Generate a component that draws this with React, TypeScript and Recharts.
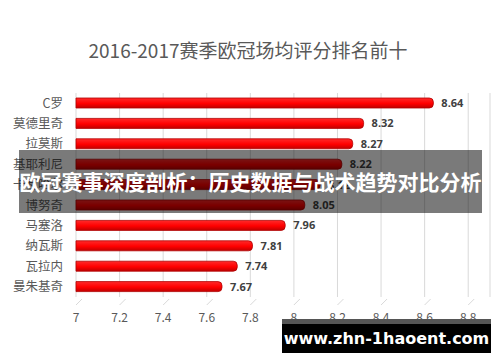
import { BarChart, Bar, XAxis, YAxis, CartesianGrid, LabelList } from 'recharts';

const players = ['C罗', '莫德里奇', '拉莫斯', '基耶利尼', '卡瓦哈尔', '博努奇', '马塞洛', '纳瓦斯', '瓦拉内', '曼朱基奇'];
const ratings = [8.64, 8.32, 8.27, 8.22, 8.12, 8.05, 7.96, 7.81, 7.74, 7.67];
const xTicks = [7, 7.2, 7.4, 7.6, 7.8, 8, 8.2, 8.4, 8.6, 8.8];

const data = players.map((name, i) => ({ name, rating: ratings[i] }));

const GREY = '#595959';

function XTick(props: any) {
  const { x, y, payload } = props;
  return (
    <g>
      <line x1={x} y1={y} x2={x + 6} y2={y - 6} stroke="#d9d9d9" />
      <text x={x} y={y + 17} textAnchor="middle" fill={GREY} fontSize={12} fontFamily="'Noto Sans CJK SC', sans-serif">
        {payload.value}
      </text>
    </g>
  );
}

export default function App() {
  return (
    <div style={{ position: 'fixed', left: 0, top: 0, width: 500, height: 362, background: '#fff', overflow: 'hidden' }}>
      <div
        style={{
          position: 'absolute', left: 0, top: 36, width: 496, textAlign: 'center',
          fontSize: 19, color: GREY, fontFamily: "'Noto Sans CJK SC', sans-serif",
        }}
      >
        2016-2017赛季欧冠场均评分排名前十
      </div>
      <BarChart
        width={500}
        height={362}
        data={data}
        layout="vertical"
        margin={{ top: 93, right: 10, bottom: 35, left: 0 }}
      >
        <defs>
          <linearGradient id="redBar" x1="0" y1="0" x2="0" y2="1">
            <stop offset="0%" stopColor="#ff2a2a" />
            <stop offset="55%" stopColor="#ff0000" />
            <stop offset="100%" stopColor="#c00000" />
          </linearGradient>
        </defs>
        <CartesianGrid horizontal={false} stroke="#d9d9d9" />
        <XAxis
          type="number"
          domain={[7, 8.9]}
          ticks={xTicks}
          axisLine={false}
          tickLine={false}
          tick={<XTick />}
          interval={0}
          height={30}
        />
        <YAxis
          type="category"
          dataKey="name"
          width={76}
          axisLine={false}
          tickLine={false}
          tickMargin={7}
          interval={0}
          tick={{ fill: GREY, fontSize: 12.5, fontFamily: "'Noto Sans CJK SC', sans-serif" }}
        />
        <Bar
          dataKey="rating"
          fill="url(#redBar)"
          stroke="#b00000"
          strokeWidth={0.8}
          barSize={10}
          radius={[0, 4, 4, 0]}
          isAnimationActive={false}
        >
          <LabelList
            dataKey="rating"
            position="right"
            offset={8}
            fill="#404040"
            fontSize={11}
            fontWeight={700}
            fontFamily="'Open Sans', sans-serif"
          />
        </Bar>
      </BarChart>
      <div
        style={{
          position: 'absolute', left: 19, top: 150, width: 463, height: 63,
          background: 'rgba(0,0,0,0.52)', color: '#fff', fontWeight: 700,
          fontSize: 21, lineHeight: '63px', textAlign: 'center', whiteSpace: 'nowrap',
          fontFamily: "'Noto Sans CJK SC', sans-serif",
        }}
      >
        欧冠赛事深度剖析：历史数据与战术趋势对比分析
      </div>
      <div
        style={{
          position: 'absolute', left: 282, top: 319, width: 209, height: 34,
          background: '#000', borderTop: '5px solid #555', boxSizing: 'border-box',
          color: '#fff', fontWeight: 700, fontSize: 16, lineHeight: '29px', textAlign: 'center',
          fontFamily: "'DejaVu Sans', sans-serif",
        }}
      >
        www.zhn-1haoent.com
      </div>
    </div>
  );
}
